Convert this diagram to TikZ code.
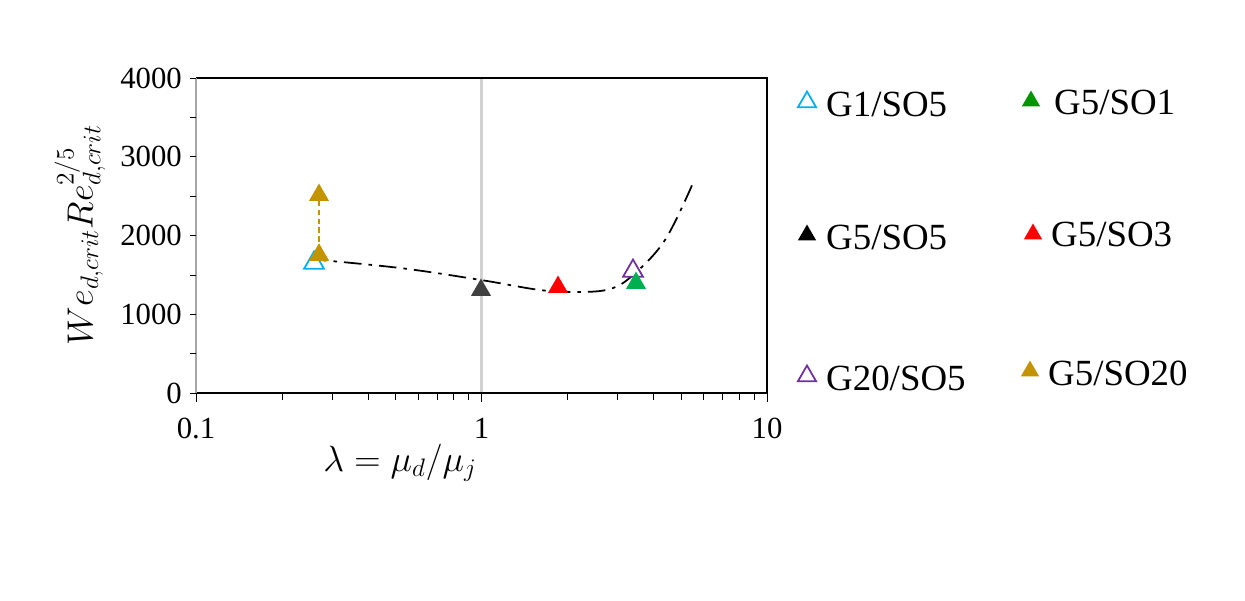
\documentclass[tikz,border=0pt]{standalone}
\usepackage{fontspec}
\setmainfont{Liberation Serif}
\usetikzlibrary{shapes.geometric}
\begin{document}
\begin{tikzpicture}[x=0.02cm,y=-0.02cm,
  tri/.style={regular polygon,regular polygon sides=3,minimum size=0.46cm,inner sep=0pt},
  filled/.style={tri,fill=#1,draw=none},
  open/.style={tri,draw=#1,line width=1pt,fill=white},
  leg/.style={anchor=west,font=\fontsize{21}{24}\selectfont},
  tick/.style={font=\fontsize{17.5}{20}\selectfont}]
\definecolor{gold}{RGB}{196,148,0}
\definecolor{cyanb}{RGB}{0,176,240}
\definecolor{gr}{RGB}{0,176,80}
\definecolor{dgr}{RGB}{0,150,0}
\definecolor{purp}{RGB}{112,48,160}
\definecolor{dk}{RGB}{64,64,64}
\useasboundingbox (0,0) rectangle (1245,600);
% gray line at 1
\draw[gray!35,line width=1.2pt] (481.5,78) -- (481.5,393);
% box
\draw[black,line width=0.8pt] (196,78) -- (767,78) -- (767,393) -- (196,393);
\draw[gray!70,line width=0.8pt] (196,78) -- (196,393);
% y ticks
\foreach \v [count=\i from 0] in {0,500,...,4000}{
  \draw (190,{393-\i*39.375}) -- (196,{393-\i*39.375});}
\foreach \v [count=\i from 0] in {0,1000,2000,3000,4000}{
  \node[tick,anchor=east] (yl\i) at (188,{393-\i*78.75}) {\v};}
% x ticks
\foreach \d in {0,1,2}{\draw ({196+285.5*\d},393) -- ({196+285.5*\d},402);}
\foreach \d in {0,1}{\foreach \k in {2,...,9}{
  \draw ({196+285.5*(\d+log10(\k))},393) -- ({196+285.5*(\d+log10(\k))},400);}}
\node[tick] (x1) at (196,428) {0.1};
\node[tick] (x2) at (481.5,428) {1};
\node[tick] (x3) at (767,428) {10};
% axis labels
\node[font=\fontsize{20}{24}\selectfont] (xlab) at (400,463) {$\lambda=\mu_d/\mu_j$};
\node[font=\fontsize{20}{24}\selectfont,rotate=90] (ylab) at (80,235) {$We_{d,crit}Re_{d,crit}^{2/5}$};
% curve
\draw[line width=1pt,dash pattern=on 10pt off 4pt on 2pt off 4pt] plot[smooth,tension=0.6] coordinates
  {(309,259) (400,268) (481,280) (540,290) (578,292) (610,289) (633,275) (665,240) (693,183)};
% gold dotted
\node[filled=gold] (g20a) at (319,195) {};
\node[filled=gold] (g20b) at (319,255) {};
\draw[gold,densely dashed,line width=0.6pt] (g20a) -- (g20b);
\node[open=cyanb] (g1) at (314,263) {};
\node[filled=gold] (g20c) at (319,255) {};
\node[filled=dk] (g5) at (481,290) {};
\node[filled=red] (g3) at (558,287) {};
\node[open=purp] (g205) at (633,271) {};
\node[filled=gr] (g51) at (636,283) {};
% legend
\node[open=cyanb,minimum size=0.42cm] (l1) at (807,102) {};
\node[leg] (t1) at (820,104) {G1/SO5};
\node[filled=dgr,minimum size=0.42cm] (l2) at (1031,101) {};
\node[leg] (t2) at (1048,102) {G5/SO1};
\node[filled=black,minimum size=0.42cm] (l3) at (807,235) {};
\node[leg] (t3) at (820,237) {G5/SO5};
\node[filled=red,minimum size=0.42cm] (l4) at (1033,234) {};
\node[leg] (t4) at (1045,234) {G5/SO3};
\node[open=purp,minimum size=0.42cm] (l5) at (807,376) {};
\node[leg] (t5) at (820,378) {G20/SO5};
\node[filled=gold,minimum size=0.42cm] (l6) at (1030,371) {};
\node[leg] (t6) at (1042,373) {G5/SO20};
\end{tikzpicture}
\end{document}
